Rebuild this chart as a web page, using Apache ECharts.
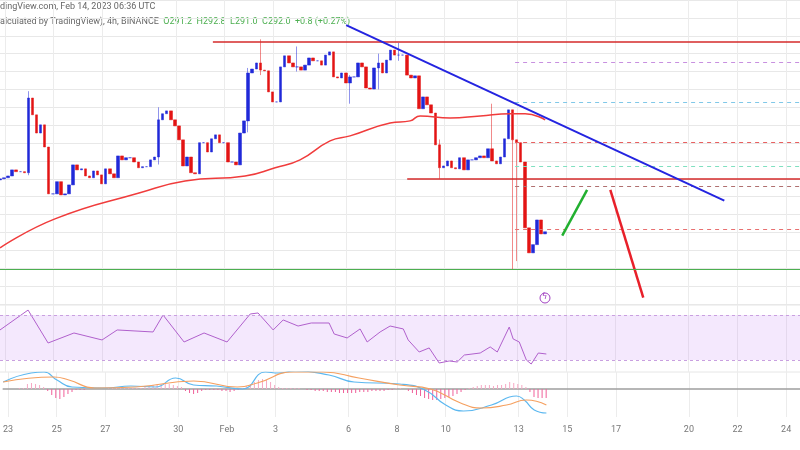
<!DOCTYPE html>
<html><head><meta charset="utf-8">
<script src="https://cdn.jsdelivr.net/npm/echarts@6/dist/echarts.min.js"></script>
<style>html,body{margin:0;padding:0;background:#fff}#c{width:800px;height:450px}</style>
</head><body><div id="c"></div>
<script>
// 4h closes (BNB/USDT), oldest first
const closes = [304.7,305.0,305.3,305.8,307.5,307.0,307.0,306.7,327.6,322.9,317.8,320.1,313.9,300.8,300.8,304.2,300.5,300.8,303.3,308.9,307.5,307.8,305.8,305.3,307.2,306.1,303.6,307.8,306.4,305.3,311.4,310.3,310.9,310.9,309.7,308.1,
308.4,308.4,310.3,311.1,321.5,323.2,324.0,321.5,319.8,315.9,308.6,311.1,306.7,306.4,315.1,315.1,312.5,316.2,317.3,315.1,315.1,309.7,309.7,308.9,317.8,321.2,334.6,335.7,337.4,335.4,335.2,329.3,326.5,
326.5,336.3,339.4,337.4,336.3,336.3,335.4,336.8,338.8,338.0,338.0,336.8,339.6,340.5,333.5,333.2,334.6,331.8,333.5,333.5,337.4,336.3,330.4,330.1,336.0,337.4,334.6,338.2,341.0,339.6,339.6,339.6,334.0,333.2,333.8,
324.6,327.9,325.7,323.4,314.5,308.1,308.6,310.0,308.1,307.8,310.9,307.5,310.3,310.3,310.9,311.4,310.9,313.4,310.0,309.2,311.1,316.2,324.3,315.9,315.1,309.7,291.3,284.3,286.6,293.5,289.6,290.2];
const firstOpen = 304.5;
const lastCandleDay = 45.13; // Feb 14, in days from Jan 0
// notable wicks: [candle index, high, low]
const wicks = [[8,329.5,306],[40,325,309],[62,336,318],[65,344,334],[74,342,335],[87,334,326],[94,340,330],[99,343,338],[109,316,305],[122,326,316],[127,288,279.6],[128,290,282]];
const maDays = [22.80,25.05,28.53,30.38,32.84,34.07,35.09,36.32,37.14,38.78,39.60,40.01,41.24,42.47,43.70,44.31,45.13];
const maVals = [285.7,293.8,301.1,304.4,305.8,308.1,310.3,315.6,317.0,320.6,321.2,322.6,322.0,322.6,323.2,323.2,321.5];
const rsiDays = [22.80,23.95,24.77,25.83,26.98,27.60,29.07,29.48,30.34,31.16,32.10,33.05,33.37,33.99,34.40,35.01,35.55,36.28,36.49,37.02,37.55,37.84,38.37,38.78,39.32,39.52,39.97,40.38,40.79,41.20,41.53,41.82,42.47,42.88,43.17,43.66,43.82,44.07,44.36,44.56,44.85,45.18];
const rsiVals = [56.7,74.4,45.1,54.0,47.8,56.7,54.9,70.0,46.0,54.0,46.0,70.9,71.8,56.7,65.6,60.2,62.9,62.9,53.1,49.6,57.6,46.0,54.9,60.2,57.6,47.8,37.1,40.7,27.3,29.1,28.2,34.4,36.2,41.6,37.1,59.3,48.7,46.0,30.0,26.4,36.2,35.3];
const macd = [[22.80,7],[23.95,16],[24.48,17],[25.01,9],[25.63,2],[26.98,1],[28.05,3],[29.07,2],[29.89,11],[30.63,4],[31.57,3],[32.64,0],[33.58,17],[34.11,16],[34.81,18],[36.20,14],[37.23,7],[39.11,5],[40.14,-1],[41.00,-16],[41.73,-22],[42.88,-16],[43.91,-7],[44.23,-11],[44.64,-21],[45.14,-24]];
const signal = [[22.80,7],[24.89,12],[25.50,9],[26.57,1],[28.25,2],[30.63,8],[32.43,2],[33.25,6],[34.73,17],[35.96,17],[37.43,11],[39.11,4],[40.38,0],[41.61,-14],[42.47,-19],[43.50,-16],[44.32,-11],[45.14,-16]];
const hist = [0,0,0,0,0,1, 1,5,6,5,4,2, -2,-6,-9,-10,-8,-5,-3,-1, -1,-1,0,0,0,0,0, 1,1,1,1,1,1,1,1,1,2, 3,4,5,5,5,5,4,3,2, -2,-4,-5,-4,-2,-1,-1,-1, -1,-2,-2,-3,-2,-1,1, 3,5,7,9,10,9,7,4,2,1, 1,1,1,1,0,-1,
-1,-2,-2,-2,-3,-3,-3,-4,-4,-4,-4,-4,-3,-3,-3,-2,-2,-2,-2,-1, -1,1,1,0,-2, -4,-6,-7,-9,-10,-11,-11,-10,-9,-8,-7,-5,-3,-1, 1,2,3,4,4,4,3,4,4,5,7,6,5, 4,2,-3,-8,-9,-9,-9];
const tickDays = [23,25,27,30,32,34,37,39,41,44,46,48,51,53,55];
// drawings: [day, price]
const trendLine = [[36.98,348.0],[52.47,298.9]];
const greenArrow = [[45.83,289.1],[46.85,301.9]];
const redArrow = [[47.80,301.9],[49.15,271.8]];
const topResist = [31.52,343.3];
const midResist = [39.48,305.0];
const support = 279.6;
const fibLevels = [[337.7,'#c890e0'],[326.5,'#80c8e8'],[315.3,'#e86060'],[308.6,'#80e0c0'],[303.0,'#b07070'],[290.8,'#e87070']];

const n = closes.length;
const candles = closes.map((c,i)=>{
  const o = i===0?firstOpen:closes[i-1];
  let lo=Math.min(o,c), hi=Math.max(o,c);
  wicks.forEach(w=>{ if(w[0]===i){hi=Math.max(hi,w[1]);lo=Math.min(lo,w[2]);} });
  return [lastCandleDay-(n-1-i)/6,o,c,lo,hi];
});
const histData = hist.map((v,i)=>[lastCandleDay-(n-1-i)/6,v]);
const XMIN=22.8, XMAX=55.57;
const xa = (g,show)=>({type:'value',gridIndex:g,min:XMIN,max:XMAX,
  axisLine:{show:show,lineStyle:{color:'#9e9e9e',width:1.5}},axisTick:{show:false,customValues:tickDays},
  axisLabel:{show:show,customValues:tickDays,color:'#777',fontSize:9,fontFamily:'Roboto',
    formatter:v=>v<=31?String(v):(v===32?'Feb':String(v-31))},
  splitLine:{show:true,lineStyle:{color:'#ececec'}}});
const chart = echarts.init(document.getElementById('c'));
chart.setOption({
  animation:false,
  grid:[{left:0,right:0,top:0,height:304},{left:0,right:0,top:305,height:67},{left:0,right:0,top:372,height:45}],
  xAxis:[xa(0,false),xa(1,false),xa(2,true)],
  yAxis:[
    {type:'value',gridIndex:0,min:270,max:355,interval:5,axisLabel:{show:false},axisLine:{show:false},axisTick:{show:false},splitLine:{lineStyle:{color:'#e8e8e8'}}},
    {type:'value',gridIndex:1,min:19.3,max:78.9,axisLabel:{show:false},axisLine:{show:false},axisTick:{show:false},splitLine:{show:false}},
    {type:'value',gridIndex:2,min:-28,max:17,axisLabel:{show:false},axisLine:{show:false},axisTick:{show:false},splitLine:{show:false}}
  ],
  series:[
    {type:'candlestick',xAxisIndex:0,yAxisIndex:0,data:candles,barWidth:3,encode:{x:0,y:[1,2,3,4]},
     itemStyle:{color:'#2029d8',color0:'#e31414',borderColor:'#2029d8',borderColor0:'#e31414',borderWidth:0.5},
     markLine:{symbol:'none',silent:true,label:{show:false},data:[
       [{coord:[topResist[0],topResist[1]]},{coord:[XMAX,topResist[1]]}],
       [{coord:[midResist[0],midResist[1]]},{coord:[XMAX,midResist[1]]}],
       ...fibLevels.map(f=>[{coord:[43.9,f[0]],lineStyle:{color:f[1],type:[4,4],width:1}},{coord:[XMAX,f[0]]}]),
       [{coord:trendLine[0],lineStyle:{color:'#2424e0',width:2}},{coord:trendLine[1]}],
       [{coord:greenArrow[0],lineStyle:{color:'#22b030',width:2.5}},{coord:greenArrow[1]}],
       [{coord:redArrow[0],lineStyle:{color:'#e8202a',width:2.5}},{coord:redArrow[1]}]
     ],lineStyle:{color:'#d42a2a',width:1.5,type:'solid'}}},
    {type:'line',xAxisIndex:0,yAxisIndex:0,data:maDays.map((d,i)=>[d,maVals[i]]),smooth:true,symbol:'none',lineStyle:{color:'#f03c3c',width:1.5},
     markLine:{symbol:'none',silent:true,label:{show:false},data:[[{coord:[XMIN,support]},{coord:[XMAX,support]}]],lineStyle:{color:'#4caf50',width:1.2,type:'solid'}}},
    {type:'line',xAxisIndex:1,yAxisIndex:1,data:rsiDays.map((d,i)=>[d,rsiVals[i]]),symbol:'none',lineStyle:{color:'#b060cc',width:1},
     markArea:{silent:true,itemStyle:{color:'rgba(200,140,245,0.2)'},data:[[{yAxis:30},{yAxis:70}]]},
     markLine:{symbol:'none',silent:true,label:{show:false},data:[{yAxis:70},{yAxis:30}],lineStyle:{color:'#c9a0e0',type:[3,3],width:1}}},
    {type:'bar',xAxisIndex:2,yAxisIndex:2,data:histData,barWidth:1,
     itemStyle:{color:p=>p.value[1]>=0?'#f7a8c4':'#f0609a'}},
    {type:'line',xAxisIndex:2,yAxisIndex:2,data:macd,smooth:true,symbol:'none',lineStyle:{color:'#5cb8f0',width:1.2}},
    {type:'line',xAxisIndex:2,yAxisIndex:2,data:signal,smooth:true,symbol:'none',lineStyle:{color:'#f5a060',width:1.2}}
  ],
  graphic:[
    {type:'text',left:0,top:2,style:{text:'dingView.com, Feb 14, 2023 06:36 UTC',fill:'#666',font:'9px Roboto'}},
    {type:'text',left:0,top:17,style:{text:'alculated by TradingView), 4h, BINANCE  {g|O291.2  H292.8  L291.0  C292.0  +0.8 (+0.27%)}',fill:'#666',font:'9px Roboto',rich:{g:{fill:'#4caf50',font:'9px Roboto'}}}},
    {type:'circle',shape:{cx:545,cy:298,r:5},style:{fill:'#fff',stroke:'#a040c0',lineWidth:1}},
    {type:'text',x:542,y:293,style:{text:'ϟ',fill:'#a040c0',font:'8px DejaVu Sans'}},
    {type:'line',shape:{x1:0,y1:305,x2:800,y2:305},style:{stroke:'#e6e6e6'}},
    {type:'line',shape:{x1:0,y1:372,x2:800,y2:372},style:{stroke:'#e6e6e6'}}
  ]
});
</script></body></html>
